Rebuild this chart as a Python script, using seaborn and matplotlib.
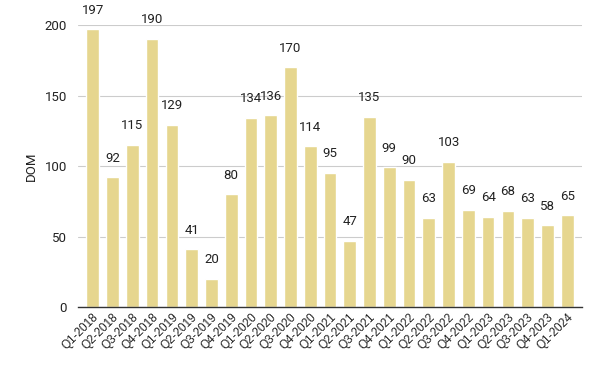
import matplotlib
matplotlib.use('Agg')
import matplotlib.pyplot as plt
import seaborn as sns
import pandas as pd

# quarterly days on market
quarters = ['Q1-2018', 'Q2-2018', 'Q3-2018', 'Q4-2018', 'Q1-2019', 'Q2-2019', 'Q3-2019',
            'Q4-2019', 'Q1-2020', 'Q2-2020', 'Q3-2020', 'Q4-2020', 'Q1-2021', 'Q2-2021',
            'Q3-2021', 'Q4-2021', 'Q1-2022', 'Q2-2022', 'Q3-2022', 'Q4-2022', 'Q1-2023',
            'Q2-2023', 'Q3-2023', 'Q4-2023', 'Q1-2024']
dom = [197, 92, 115, 190, 129, 41, 20, 80, 134, 136, 170, 114, 95, 47,
       135, 99, 90, 63, 103, 69, 64, 68, 63, 58, 65]
yticks = [0, 50, 100, 150, 200]

df = pd.DataFrame({'Quarter': quarters, 'DOM': dom})

sns.set_style('white')
plt.rcParams['font.family'] = ['Roboto', 'DejaVu Sans']

fig = plt.figure(figsize=(6, 3.71), dpi=100)
ax = fig.add_axes([0.13, 0.1725, 0.84, 0.76])

sns.barplot(data=df, x='Quarter', y='DOM', color='#E6D68F', saturation=1,
            width=0.64, ax=ax)

for i, v in enumerate(dom):
    ax.text(i, v + 9, str(v), ha='center', va='bottom', fontsize=9.5,
            color='#222222', clip_on=False)

ax.set_ylim(0, 200)
ax.set_xlim(-0.75, len(quarters) - 0.25)
ax.set_yticks(yticks)
ax.yaxis.grid(True, color='#CCCCCC', linewidth=0.8)
ax.set_axisbelow(True)
for s in ['top', 'right', 'left']:
    ax.spines[s].set_visible(False)
ax.spines['bottom'].set_color('#333333')
ax.spines['bottom'].set_linewidth(1.0)
ax.tick_params(axis='y', length=0, labelsize=9.5, labelcolor='#222222', pad=8)
ax.tick_params(axis='x', length=0, labelsize=8.5, labelcolor='#222222', pad=3)
plt.setp(ax.get_xticklabels(), rotation=45, ha='right', rotation_mode='anchor',
         family=['Liberation Sans', 'DejaVu Sans'])
ax.set_xlabel('')
ax.set_ylabel('DOM', fontsize=9.5, color='#222222', labelpad=5)

fig.savefig('out.png', dpi=100)
